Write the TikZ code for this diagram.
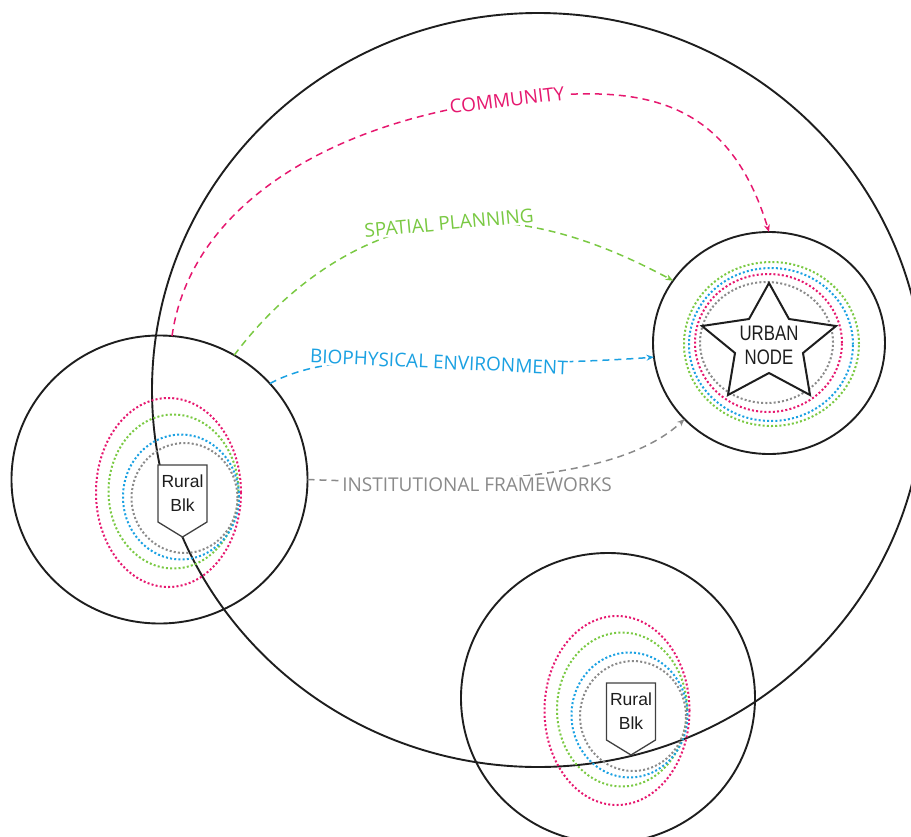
\documentclass[tikz,border=0pt]{standalone}
\usepackage{fontspec}
\usetikzlibrary{arrows.meta,shapes.geometric,calc}
\newfontfamily\lblfont{Open Sans}
\newfontfamily\blkfont{Liberation Sans}
\newfontfamily\urbfont[FakeStretch=0.8]{Liberation Sans}
\definecolor{pinkc}{HTML}{E6186F}
\definecolor{greenc}{HTML}{7AC943}
\definecolor{bluec}{HTML}{1BA1E2}
\definecolor{greyc}{HTML}{8A8A8A}
\definecolor{inkc}{HTML}{1E1E1E}
\tikzset{
  ring/.style={draw=inkc, ellipse, inner sep=0pt, outer sep=0pt, line width=1.9pt},
  dotring/.style={line width=2pt, dash pattern=on 2pt off 2.2pt},
  conn/.style={line width=1.5pt, dash pattern=on 7pt off 5pt, -{Stealth[length=7.5pt,width=6pt]}},
  lbl/.style={font=\lblfont\fontsize{19}{22}\selectfont, fill=white, inner sep=1.5pt},
  blkshape/.style={draw=inkc!85, fill=white, line width=1.3pt, line join=miter},
  blktext/.style={font=\blkfont\fontsize{17.5}{24}\selectfont, align=center, text=inkc, inner sep=0pt},
  starline/.style={draw=inkc, fill=white, line width=2pt, line join=miter},
  urbtext/.style={font=\urbfont\fontsize{21}{24}\selectfont, align=center, text=inkc, inner sep=0pt}
}
\begin{document}
\begin{tikzpicture}[x=1pt,y=-1pt]
\useasboundingbox (0,0) rectangle (911,836);

% black rings
\node[ring, minimum width=772pt, minimum height=754pt] (big) at (538,390) {};
\node[ring, minimum width=296pt, minimum height=288pt] (lc) at (159.5,479.5) {};
\node[ring, minimum width=294pt, minimum height=290pt] (bc) at (608,698) {};
\node[ring, minimum width=232pt, minimum height=222pt] (uc) at (769,343) {};

% dotted rings around the rural blocks
\foreach \cx/\cy in {182.5/493.5, 631/711.5}{
  \begin{scope}[shift={(\cx,\cy)}]
    \draw[dotring, pinkc]  (-14,-1) ellipse [x radius=72.5pt, y radius=94.5pt];
    \draw[dotring, greenc] (-9,-2) ellipse [x radius=65pt, y radius=77pt];
    \draw[dotring, bluec]  (-1.5,3.5) ellipse [x radius=58pt, y radius=62.5pt];
    \draw[dotring, greyc]  (2,4.5) ellipse [x radius=53pt, y radius=55pt];
  \end{scope}
}
% dotted rings around the urban node
\begin{scope}[shift={(769,343)}]
  \draw[dotring, greenc] (2.5,1) ellipse [x radius=87.5pt, y radius=82pt];
  \draw[dotring, bluec]  (2,1.5) ellipse [x radius=82pt, y radius=76.5pt];
  \draw[dotring, pinkc]  (-0.5,0) ellipse [x radius=73.5pt, y radius=69pt];
  \draw[dotring, greyc]  (-2.5,-0.5) ellipse [x radius=66.5pt, y radius=60.5pt];
\end{scope}

% connectors
\coordinate (cmid) at (507,100);
\coordinate (smid) at (449,223);
\coordinate (bmid) at (439,362);
\coordinate (imid) at (477,484.5);

\draw[conn, pinkc] (lc.85) .. controls (190,207) and (328,122) .. (cmid)
  .. controls (626,85) and (725,87) .. (uc.north);
\draw[conn, greenc] (lc.59) .. controls (283,290) and (359,231) .. (smid)
  .. controls (529,215.6) and (602.4,242.8) .. (uc.147);
\draw[conn, bluec] (lc.41) .. controls (315,359) and (379,359) .. (bmid)
  .. controls (499,365) and (605,361) .. (uc.187);
\draw[conn, greyc] (lc.east) .. controls (470,486) and (620,480) .. (uc.222);

\node[lbl, text=pinkc, rotate=7] (comm) at (cmid) {COMMUNITY};
\node[lbl, text=greenc, rotate=5.3] (spat) at (smid) {SPATIAL PLANNING};
\node[lbl, text=bluec, rotate=-2.6] (bio) at (bmid) {BIOPHYSICAL ENVIRONMENT};
\node[lbl, text=greyc] (inst) at (imid) {INSTITUTIONAL FRAMEWORKS};

% rural blocks
\begin{scope}[shift={(182.5,493.5)}]
  \draw[blkshape] (-24.5,-28.5) -- (24.5,-28.5) -- (24.5,28.5) -- (0,43.5) -- (-24.5,28.5) -- cycle;
  \node[blktext] (rb1) at (0,0) {Rural\\Blk};
\end{scope}
\begin{scope}[shift={(631,711.5)}]
  \draw[blkshape] (-24.5,-28.5) -- (24.5,-28.5) -- (24.5,28.5) -- (0,43.5) -- (-24.5,28.5) -- cycle;
  \node[blktext] (rb2) at (0,0) {Rural\\Blk};
\end{scope}

% urban node star
\begin{scope}[shift={(769,345)}]
  \draw[starline] (0,-62) -- (20,-26) -- (67,-19) -- (34,8) -- (41,50) -- (0,28)
    -- (-41,50) -- (-34,8) -- (-67,-19) -- (-20,-26) -- cycle;
  \node[urbtext] (urban) at (0,0.5) {URBAN\\NODE};
\end{scope}
\end{tikzpicture}
\end{document}
